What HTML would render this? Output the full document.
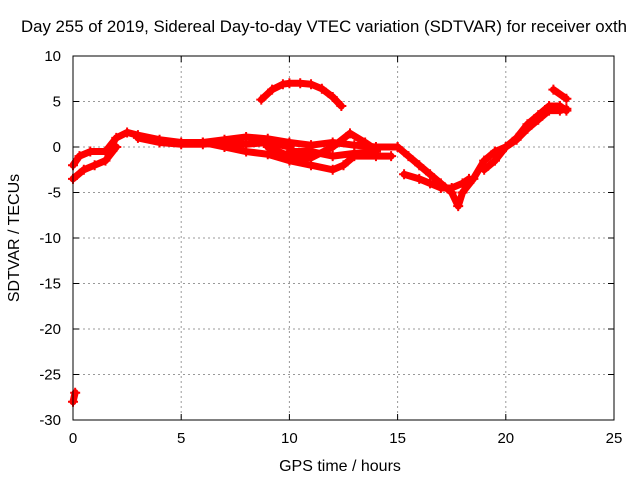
<!DOCTYPE html>
<html><head><meta charset="utf-8"><style>
body{margin:0;background:#fff}svg{display:block;font-family:"Liberation Sans",sans-serif}
</style></head><body>
<svg id="c" width="640" height="480">
<text x="324" y="32" font-size="16.8" text-anchor="middle">Day 255 of 2019, Sidereal Day-to-day VTEC variation (SDTVAR) for receiver oxth</text>
<text x="340" y="471" font-size="16" text-anchor="middle">GPS time / hours</text>
<text transform="translate(19,238) rotate(-90)" font-size="16" text-anchor="middle">SDTVAR / TECUs</text>
<g id="grid"></g><g id="marks"></g>
<rect x="73" y="56" width="541" height="364" fill="none" stroke="#000"/>
</svg>
<script>
const xTicks=[0,5,10,15,20,25];
const yTicks=[10,5,0,-5,-10,-15,-20,-25,-30];
const arcT=[8.7,9.2,9.7,10,10.5,11,11.5,12,12.4];
const arcV=[5.2,6.3,6.9,7,7,6.9,6.4,5.5,4.5];
const mainT=[0,0.3,0.8,1.5,2,2.5,3,4,5,6,7,8,9,10,11,12,13,14,15];
const mainV=[-2,-1,-0.5,-0.5,1,1.6,1.3,0.8,0.5,0.5,0.8,1.1,0.9,0.5,0.2,0.5,0.2,0,0];
const bandT=[3,4,5,6,7,8,9,10];
const bandV=[1,0.5,0.3,0.3,0.5,0.3,0.5,0];
const earlyT=[0,0.5,1,1.5,2];
const earlyV=[-3.5,-2.5,-2,-1.5,0];
const lowT=[6,7,8,9,10,11,12,12.5,13,14,14.7];
const lowV=[0.5,0,-0.5,-0.8,-1.5,-2,-2.5,-2,-1,-1,-1];
const midT=[9,10,11,12,12.8,13.5,14];
const midV=[0,-1,-1.2,0,1.5,0.5,-0.3];
const mid2T=[10,11,12,13,14];
const mid2V=[-0.5,-0.5,-1,-0.7,-0.5];
const riseT=[15,15.5,16,16.5,17,17.5,17.8,18,18.5,19,19.5,20,20.5,21,21.5,22,22.5,22.8];
const riseV=[0,-1,-2,-3,-4,-5,-6.5,-5,-3.5,-1.5,-0.5,0,1,2.5,3.5,4.5,4.5,4];
const dipT=[15.3,16,16.5,17,17.5,18,18.3];
const dipV=[-3,-3.5,-4,-4.5,-4.5,-4,-3.5];
const rise2T=[19,19.5,20,20.5,21,21.5,22,22.5,22.8];
const rise2V=[-2.5,-1.5,0,0.8,2,3,4,4,4.2];
const tipT=[22.2,22.8];
const tipV=[6.3,5.3];
const startT=[0,0.1];
const startV=[-28,-27];
const NS='http://www.w3.org/2000/svg';
const X=t=>73+t*541/25, Y=v=>147-v*364/40;
const grid=document.getElementById('grid'),marks=document.getElementById('marks');
function mk(tag,a,p){const e=document.createElementNS(NS,tag);for(const k in a)e.setAttribute(k,a[k]);p.appendChild(e);return e;}
xTicks.forEach(t=>{
 const l=mk('line',{x1:X(t),x2:X(t),y1:56,y2:420,stroke:'#999','stroke-dasharray':'2,3'},grid);
 
 
 mk('line',{x1:X(t),x2:X(t),y1:420,y2:414,stroke:'#000'},grid);
 mk('line',{x1:X(t),x2:X(t),y1:56,y2:62,stroke:'#000'},grid);
 const tx=mk('text',{x:X(t),y:443,'font-size':15,'text-anchor':'middle'},grid);tx.textContent=t;
 
 
});
yTicks.forEach(v=>{
 const l=mk('line',{x1:73,x2:614,y1:Y(v),y2:Y(v),stroke:'#999','stroke-dasharray':'2,3'},grid);
 
 
 mk('line',{x1:73,x2:79,y1:Y(v),y2:Y(v),stroke:'#000'},grid);
 mk('line',{x1:608,x2:614,y1:Y(v),y2:Y(v),stroke:'#000'},grid);
 const tx=mk('text',{x:61,y:Y(v)+5,'font-size':15,'text-anchor':'end'},grid);tx.textContent=v;
 
 
});
function series(T,V,name){
 const g=mk('g',{},marks);
 
 
 mk('polyline',{points:T.map((t,i)=>X(t)+','+Y(V[i])).join(' '),fill:'none',stroke:'#f00','stroke-width':7,'stroke-linejoin':'round','stroke-linecap':'round'},g);
 T.forEach((t,i)=>{const x=X(t),y=Y(V[i]);
  mk('path',{d:`M${x-5},${y}h10M${x},${y-5}v10`,stroke:'#f00','stroke-width':2},g);});
}
series(arcT,arcV,'series-arc');
series(mainT,mainV,'series-main');
series(bandT,bandV,'series-band');
series(earlyT,earlyV,'series-early');
series(lowT,lowV,'series-low');
series(midT,midV,'series-mid');
series(mid2T,mid2V,'series-mid2');
series(riseT,riseV,'series-rise');
series(dipT,dipV,'series-dip');
series(rise2T,rise2V,'series-rise2');
series(tipT,tipV,'series-tip');
series(startT,startV,'series-start');
</script>
</body></html>
